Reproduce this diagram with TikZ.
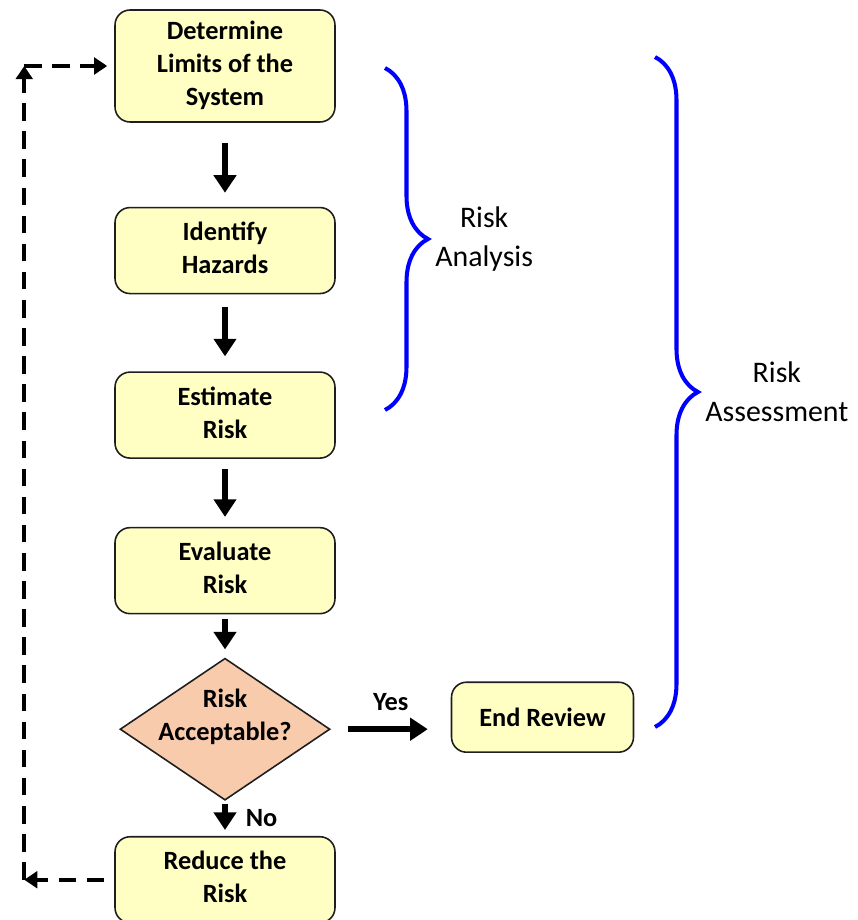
\documentclass[tikz,border=0pt]{standalone}
\usepackage{fontspec}
\setmainfont{Carlito}
\usepackage{tikz}
\usetikzlibrary{arrows.meta,shapes,positioning,decorations.pathreplacing}
\usepackage{xcolor}
\definecolor{rablack}{RGB}{30,30,30}
\definecolor{rayellow}{RGB}{255,255,196}
\definecolor{rapeach}{RGB}{248,203,173}
\definecolor{rablue}{RGB}{0,0,255}
\tikzstyle{arrow} = [line width=3.4pt,-{Triangle[length=10pt,width=12.5pt]},color=black]
\tikzstyle{loopback} = [line width=2.3pt,dash pattern=on 10pt off 6pt,-{Triangle[length=7.5pt,width=9.5pt]},color=black]
\tikzstyle{stage} = [rectangle, rounded corners=0.3cm, minimum width=4.4cm, minimum height=1.72cm, text centered, draw=rablack, fill=rayellow, line width=0.9pt, font=\fontsize{15}{18.7}\selectfont\bfseries]
\tikzstyle{decision} = [diamond, minimum width=4.2cm, minimum height=2.84cm, inner sep=0pt, draw=rablack, fill=rapeach, line width=0.9pt]
\tikzstyle{bracket} = [decorate, decoration={brace, amplitude=0.86cm}, line width=2.3pt, color=rablue]
\tikzstyle{bracetext} = [align=center, text=black, font=\fontsize{17}{22}\selectfont]
\tikzstyle{answer} = [font=\fontsize{15}{18.7}\selectfont\bfseries]

\begin{document}
\begin{tikzpicture}[x=0.02cm, y=-0.02cm]
\useasboundingbox (0,0) rectangle (858,920);

% Step 1: Limits
\node (limits) [stage, minimum height=2.24cm] at (225,66) {
\begin{tabular}{c}
Determine\\
Limits of the\\
System
\end{tabular}
};

% Step 2: Hazards
\node (hazards) [stage, below=1.68cm of limits] {
\begin{tabular}{c}
Identify\\
Hazards
\end{tabular}
};

% Step 3: Estimation
\node (estimate) [stage, below=1.54cm of hazards] {
\begin{tabular}{c}
Estimate\\
Risk
\end{tabular}
};

% Step 4: Evaluation
\node (evaluate) [stage, below=1.36cm of estimate] {
\begin{tabular}{c}
Evaluate\\
Risk
\end{tabular}
};

% Decision
\node (accept) [decision, below=0.86cm of evaluate,
  label={[answer, yshift=0.24cm]center:\begin{tabular}{c}Risk\\Acceptable?\end{tabular}}] {};

% Outcomes
\node (reduce) [stage, below=0.7cm of accept] {
\begin{tabular}{c}
Reduce the\\
Risk
\end{tabular}
};
\node (review) [stage, right=2.4cm of accept, yshift=0.24cm, minimum width=3.64cm, minimum height=1.4cm] {End Review};

% Arrows
\draw [arrow, shorten <=0.4cm, shorten >=0.28cm] (limits) -- (hazards);
\draw [arrow, shorten <=0.26cm, shorten >=0.3cm] (hazards) -- (estimate);
\draw [arrow, shorten <=0.2cm, shorten >=0.2cm] (estimate) -- (evaluate);
\draw [arrow, shorten <=0.1cm, shorten >=0.16cm] (evaluate) -- (accept);
\draw [arrow, shorten <=0.06cm, shorten >=0.12cm] (accept) -- node[answer, right=0.24cm] {No} (reduce);
\draw [arrow, shorten <=0.34cm, shorten >=0.46cm] (accept.east) -- (accept.east -| review.west)
  node[answer, midway, above=0.2cm] {Yes};

% Loop back
\coordinate (cbot) at ([xshift=-1.8cm]reduce.west);
\coordinate (ctop) at (cbot |- limits.west);
\draw [loopback, shorten <=0.2cm] (reduce.west) -- (cbot);
\draw [loopback] (cbot) -- (ctop);
\draw [loopback, shorten >=0.14cm] (ctop) -- (limits.west);

% Braces
\coordinate (atop) at (385,68);
\coordinate (abot) at (385,410);
\draw [bracket] (atop) -- (abot) node[bracetext, midway, right=0.85cm] {Risk\\Analysis};
\coordinate (stop) at (655,57);
\coordinate (sbot) at (655,727);
\draw [bracket] (stop) -- (sbot) node[bracetext, midway, right=0.85cm] {Risk\\Assessment};

\end{tikzpicture}
\end{document}
